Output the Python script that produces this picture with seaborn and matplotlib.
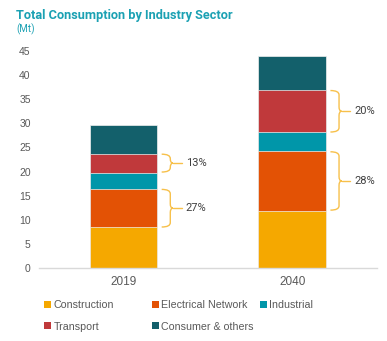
import matplotlib
matplotlib.use("Agg")
import matplotlib.pyplot as plt
from matplotlib.patches import Patch, PathPatch
from matplotlib.path import Path
import seaborn as sns
import pandas as pd
import numpy as np

years = ["2019", "2040"]
sectors = ["Construction", "Electrical Network", "Industrial", "Transport", "Consumer & others"]
construction = [8.4, 11.9]
electrical = [8.0, 12.3]
industrial = [3.4, 3.9]
transport = [3.9, 8.8]
consumer = [6.0, 7.1]
colors = ["#F5A800", "#E35205", "#0096A9", "#C0393B", "#13606B"]

# bracket annotations: (year index, sector index, label)
brackets = [(0, 1, "27%"), (0, 3, "13%"), (1, 1, "28%"), (1, 3, "20%")]

sns.set_style("white")
plt.rcParams["font.family"] = ["Liberation Sans", "DejaVu Sans"]

values = np.array([construction, electrical, industrial, transport, consumer])
cum = np.cumsum(values, axis=0)

fig = plt.figure(figsize=(3.87, 3.41), dpi=100)
ax = fig.add_axes([39 / 387, 1 - 268 / 341, (376.5 - 39) / 387, (268 - 51) / 341])

# stacked bars: draw cumulative totals from the top layer down
for i in range(len(sectors) - 1, -1, -1):
    df = pd.DataFrame({"year": years, "value": cum[i]})
    sns.barplot(data=df, x="year", y="value", color=colors[i], width=0.4,
                saturation=1, edgecolor="#f0f0f0", linewidth=0.5, ax=ax)

ax.set_xlim(-0.5, 1.5)
ax.set_ylim(0, 45)
ax.set_yticks(np.arange(0, 46, 5))
ax.set_xlabel("")
ax.set_ylabel("")
for s in ["top", "right", "left"]:
    ax.spines[s].set_visible(False)
ax.spines["bottom"].set_color("#d9d9d9")
ax.spines["bottom"].set_linewidth(1.0)
ax.tick_params(axis="y", length=0, labelsize=7.5, labelcolor="#595959", pad=6)
ax.tick_params(axis="x", length=0, labelsize=8.5, labelcolor="#595959", pad=6)

# curly brackets next to a bar segment
bracket_color = "#F7C04A"
for xi, si, label in brackets:
    y0 = cum[si - 1][xi] + 0.1
    y1 = cum[si][xi] - 0.1
    ym = (y0 + y1) / 2
    xa = xi + 0.227
    xb = xi + 0.278
    xc = xi + 0.294
    r = 0.9
    verts = [(xa, y1), (xb, y1), (xb, y1 - r),
             (xb, ym + r), (xb, ym), (xc, ym),
             (xb, ym), (xb, ym - r),
             (xb, y0 + r), (xb, y0), (xa, y0)]
    codes = [Path.MOVETO, Path.CURVE3, Path.CURVE3,
             Path.LINETO, Path.CURVE3, Path.CURVE3,
             Path.CURVE3, Path.CURVE3,
             Path.LINETO, Path.CURVE3, Path.CURVE3]
    ax.add_patch(PathPatch(Path(verts, codes), fill=False, edgecolor=bracket_color,
                           linewidth=1.0, clip_on=False))
    ax.plot([xc, xi + 0.345], [ym, ym], color=bracket_color, linewidth=1.0, clip_on=False)
    ax.text(xi + 0.37, ym, label, ha="left", va="center", fontsize=8,
            color="#404040", family=["Roboto", "DejaVu Sans"])

fig.text(16 / 387, 1 - 15 / 341, "Total Consumption by Industry Sector", ha="left", va="center",
         fontsize=9.2, fontweight="bold", color="#1BA1B3", family=["Roboto", "DejaVu Sans"])
fig.text(16 / 387, 1 - 29.5 / 341, "(Mt)", ha="left", va="center",
         fontsize=7, color="#1BA1B3", family=["Roboto", "DejaVu Sans"])

# legend laid out as three evenly spaced columns, filled row by row
columns = [[0, 3], [1, 4], [2]]
col_x = [40, 148, 256]
for cx, idx in zip(col_x, columns):
    handles = [Patch(facecolor=colors[k], edgecolor="none", label=sectors[k]) for k in idx]
    leg = fig.legend(handles=handles, ncol=1, loc="upper left",
                     bbox_to_anchor=(cx / 387, 1 - 296 / 341), frameon=False,
                     fontsize=7.7, handlelength=0.6, handleheight=0.6, handletextpad=0.25,
                     labelspacing=1.05, borderaxespad=0)
    for t in leg.get_texts():
        t.set_color("#595959")

fig.savefig("out.png", dpi=100)
